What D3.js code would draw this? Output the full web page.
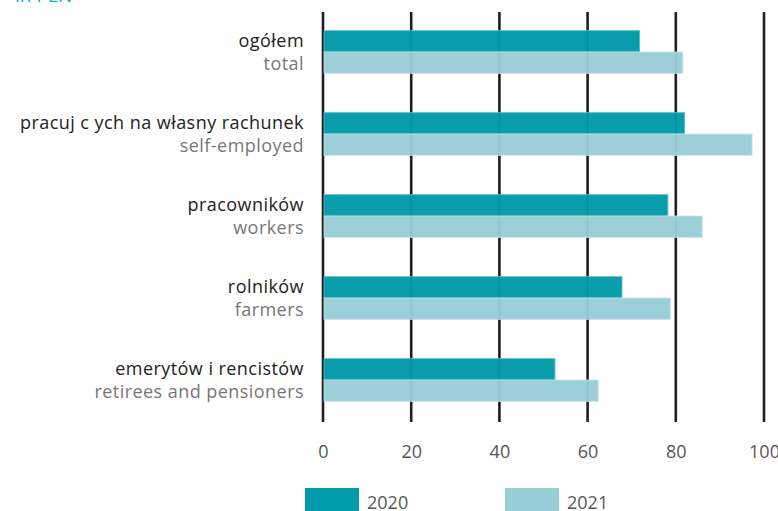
<!DOCTYPE html>
<html><head><meta charset="utf-8">
<script src="https://cdn.jsdelivr.net/npm/d3@7"></script>
<style>body{margin:0;background:#fff}svg{display:block}</style>
</head><body>
<script>
const categoriesPL = ["ogółem","pracuj c ych na własny rachunek","pracowników","rolników","emerytów i rencistów"];
const categoriesEN = ["total","self-employed","workers","farmers","retirees and pensioners"];
const values2020 = [71.8, 82.0, 78.2, 67.8, 52.6];
const values2021 = [81.6, 97.3, 86.0, 78.8, 62.4];
const seriesNames = ["2020","2021"];
const tickValues = [0,20,40,60,80,100];

const W=778,H=511;
const svg=d3.select("body").append("svg").attr("width",W).attr("height",H);
const font="'Open Sans', sans-serif";
const c2020="#009aaa", c2021="#99cdd6";

const x=d3.scaleLinear().domain([0,100]).range([323,764]);
const y=d3.scaleBand().domain(categoriesPL).range([11,421]).paddingInner(0.48).paddingOuter(0.24);

// cut-off header
svg.append("text").attr("x",15).attr("y",2).attr("font-family",font).attr("font-size",19)
  .attr("fill","#00b3c3").text("in PLN");

// gridlines
svg.append("g").selectAll("line").data(tickValues).join("line")
  .attr("x1",d=>x(d)).attr("x2",d=>x(d)).attr("y1",12).attr("y2",422)
  .attr("stroke","#231f20").attr("stroke-width",2.6);

const bh=y.bandwidth()/2;
const g=svg.append("g");
g.selectAll("rect.a").data(categoriesPL).join("rect").attr("class","a")
  .attr("x",x(0)+1).attr("y",d=>y(d)).attr("height",bh)
  .attr("width",(d,i)=>x(values2020[i])-x(0)-1).attr("fill",c2020).attr("fill-opacity",0.96)
  .attr("stroke","#5bbcc6").attr("stroke-width",0.8);
g.selectAll("rect.b").data(categoriesPL).join("rect").attr("class","b")
  .attr("x",x(0)+1).attr("y",d=>y(d)+bh).attr("height",bh)
  .attr("width",(d,i)=>x(values2021[i])-x(0)-1).attr("fill",c2021).attr("fill-opacity",0.96)
  .attr("stroke","#c6e4e9").attr("stroke-width",0.8);

// category labels
const lab=svg.append("g").attr("font-family",font).attr("font-size",18).attr("letter-spacing",0.45).attr("text-anchor","end");
lab.selectAll("text.pl").data(categoriesPL).join("text").attr("class","pl")
  .attr("x",304).attr("y",d=>y(d)+bh/2+6).attr("fill","#222").text(d=>d);
lab.selectAll("text.en").data(categoriesEN).join("text").attr("class","en")
  .attr("x",304).attr("y",(d,i)=>y(categoriesPL[i])+bh*1.5+7).attr("fill","#777").text(d=>d);

// x axis labels
const ax=d3.axisBottom(x).tickValues(tickValues).tickSize(0).tickPadding(0);
const axg=svg.append("g").attr("transform","translate(0,445)").call(ax);
axg.select(".domain").remove();
axg.selectAll("text").attr("font-family",font).attr("font-size",18).attr("fill","#555").attr("dy","0.71em");

// legend
const leg=svg.append("g");
const lx=[305,505];
leg.selectAll("rect").data(seriesNames).join("rect")
  .attr("x",(d,i)=>lx[i]).attr("y",488).attr("width",54).attr("height",23)
  .attr("fill",(d,i)=>i?c2021:c2020);
leg.selectAll("text").data(seriesNames).join("text")
  .attr("x",(d,i)=>lx[i]+62).attr("y",509).attr("font-family",font).attr("font-size",18)
  .attr("fill","#555").text(d=>d);
</script>
</body></html>
